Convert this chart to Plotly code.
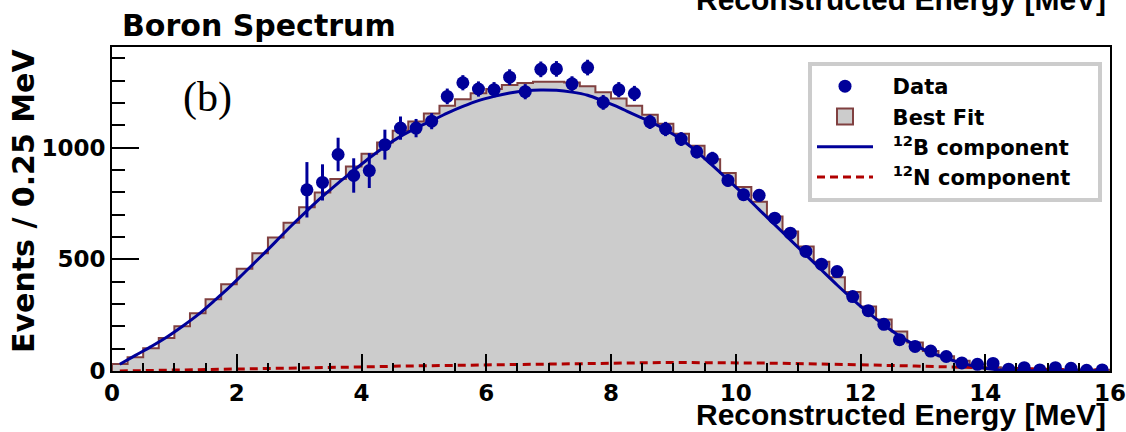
import numpy as np
import plotly.graph_objects as go

# ---------------- data ----------------
bin_width = 0.25
e_min, e_max = 0.0, 16.0

best_fit = [31, 61, 102, 148, 200, 258, 321, 388, 458, 527, 597, 664, 733, 799, 859, 915,
            972, 1023, 1075, 1117, 1152, 1187, 1216, 1243, 1262, 1280, 1289, 1294, 1294, 1291, 1274, 1248,
            1219, 1187, 1147, 1107, 1062, 1008, 948, 886, 823, 758, 691, 624, 557, 489, 420, 353,
            289, 230, 177, 128, 89, 66, 46, 29, 17, 12, 10, 9, 8, 7, 7, 6]

b12_component = [30, 70, 109, 151, 199, 251, 311, 373, 441, 509, 579, 650, 717, 781, 841, 897,
                 953, 1005, 1050, 1087, 1120, 1154, 1184, 1210, 1229, 1244, 1254, 1258, 1256, 1248, 1234, 1208,
                 1180, 1147, 1116, 1080, 1036, 982, 920, 856, 791, 722, 655, 587, 520, 452, 385, 321,
                 261, 206, 157, 116, 82, 57, 35, 18, 8, 3, 2, 1, 1, 1, 1, 1]

n12_component = [0, 1, 2, 3, 4, 5, 6, 7, 8, 9, 10, 12, 13, 14, 16, 17,
                 19, 20, 22, 23, 25, 26, 27, 28, 30, 31, 32, 33, 34, 35, 36, 36,
                 37, 37, 38, 38, 38, 38, 37, 37, 36, 36, 35, 34, 33, 32, 30, 29,
                 27, 26, 24, 22, 20, 18, 16, 14, 12, 10, 9, 8, 7, 6, 6, 5]

data_first_center = 3.125
data_counts = [811, 844, 969, 875, 897, 1013, 1087, 1087, 1118, 1229, 1290, 1262, 1259, 1315, 1250, 1350,
               1352, 1285, 1358, 1202, 1259, 1242, 1115, 1083, 1038, 981, 951, 853, 789, 786, 684, 617,
               535, 478, 445, 333, 270, 209, 140, 110, 89, 65, 36, 30, 34, 8, 15, 5, 15, 12, 3, 5]
data_errors = [124, 81, 75, 77, 78, 67, 52, 41, 36, 35, 34, 34, 34, 35, 34, 35,
               35, 34, 35, 33, 34, 34, 32, 32, 31, 30, 30, 28, 27, 27, 25, 24,
               22, 21, 20, 18, 16, 14, 12, 10, 9, 8, 6, 5, 6, 3, 4, 2, 4, 3, 2, 2]

x_ticks = [0, 2, 4, 6, 8, 10, 12, 14, 16]
y_ticks = [0, 500, 1000]

# ---------------- derived positions ----------------
n_bins = len(best_fit)
lefts = e_min + bin_width * np.arange(n_bins)
centers = lefts + bin_width / 2
data_x = data_first_center + bin_width * np.arange(len(data_counts))

hist_x = np.concatenate([[e_min], lefts, [e_max, e_max]])
hist_y = np.concatenate([[0], best_fit, [best_fit[-1], 0]])

BLUE = "#000099"
RED = "#b00000"
GREY = "#cccccc"
BROWN = "#804040"
BOLD = "DejaVu Sans"
SP = "\u00a0\u00a0"

fig = go.Figure()

fig.add_trace(go.Scatter(x=hist_x, y=hist_y, mode="lines", line=dict(shape="hv", color=BROWN, width=2),
                         fill="tozeroy", fillcolor=GREY, showlegend=False, hoverinfo="skip"))
fig.add_trace(go.Scatter(x=[None], y=[None], mode="markers", name=SP + "Best Fit", legendrank=2,
                         marker=dict(symbol="square", size=16, color=GREY, line=dict(color=BROWN, width=2))))
fig.add_trace(go.Scatter(x=centers, y=n12_component, mode="lines",
                         name=SP + "<sup>12</sup>N component" + "\u00a0\u00a0\u00a0",
                         legendrank=4, line=dict(color=RED, width=3, dash="8px,5px")))
fig.add_trace(go.Scatter(x=centers, y=b12_component, mode="lines", name=SP + "<sup>12</sup>B component",
                         legendrank=3, line=dict(color=BLUE, width=3, shape="spline")))
fig.add_trace(go.Scatter(x=data_x, y=data_counts, mode="markers", name=SP + "Data", legendrank=1,
                         marker=dict(color=BLUE, size=13),
                         error_y=dict(type="data", array=data_errors, color=BLUE, thickness=3, width=0)))

L, R, T, B = 112, 16, 47, 61
W, H = 1126, 432
pw, ph = W - L - R, H - T - B

def px_x(px):
    return (px - L) / pw

def px_y(py):
    return (H - B - py) / ph

axis_common = dict(showline=True, linecolor="black", linewidth=2, mirror=True, showgrid=False,
                   zeroline=False, ticks="inside", tickcolor="black", tickwidth=2,
                   ticklabeloverflow="allow",
                   tickfont=dict(family=BOLD, size=23, color="black", weight="bold"))

fig.update_xaxes(range=[e_min, e_max + 1e-4], tickvals=x_ticks, ticklen=17,
                 minor=dict(dtick=0.5, ticks="inside", ticklen=8, tickwidth=1.5, tickcolor="black", showgrid=False),
                 **axis_common)
fig.update_yaxes(range=[0, 1450], tickvals=y_ticks, ticklen=27,
                 minor=dict(dtick=100, ticks="inside", ticklen=13, tickwidth=1.5, tickcolor="black", showgrid=False),
                 **axis_common)

annotations = [
    dict(text="Boron Spectrum", x=px_x(120), y=px_y(26), xanchor="left", yanchor="middle",
         font=dict(family=BOLD, size=30, color="black", weight="bold")),
    dict(text="Reconstructed Energy [MeV]", x=px_x(1108), y=px_y(414), xanchor="right", yanchor="middle",
         font=dict(family="Liberation Sans", size=30, color="black", weight="bold")),
    dict(text="Reconstructed Energy [MeV]", x=px_x(1108), y=px_y(-1), xanchor="right", yanchor="middle",
         font=dict(family="Liberation Sans", size=30, color="black", weight="bold")),
    dict(text="Events / 0.25 MeV", x=px_x(23), y=px_y(47), xanchor="center", yanchor="top", textangle=-90,
         font=dict(family=BOLD, size=30, color="black", weight="bold")),
    dict(text="(b)", x=px_x(207), y=px_y(97), xanchor="center", yanchor="middle",
         font=dict(family="Liberation Serif", size=42, color="black")),
]
for a in annotations:
    a.update(xref="paper", yref="paper", showarrow=False)

fig.update_layout(
    width=W, height=H, margin=dict(l=L, r=R, t=T, b=B, autoexpand=False),
    paper_bgcolor="white", plot_bgcolor="white",
    annotations=annotations,
    legend=dict(x=px_x(808), y=px_y(62), xanchor="left", yanchor="top", bgcolor="white",
                bordercolor="#cccccc", borderwidth=4, itemwidth=56, tracegroupgap=4,
                font=dict(family=BOLD, size=21, color="black", weight="bold")),
)

fig.write_html("out.html")
